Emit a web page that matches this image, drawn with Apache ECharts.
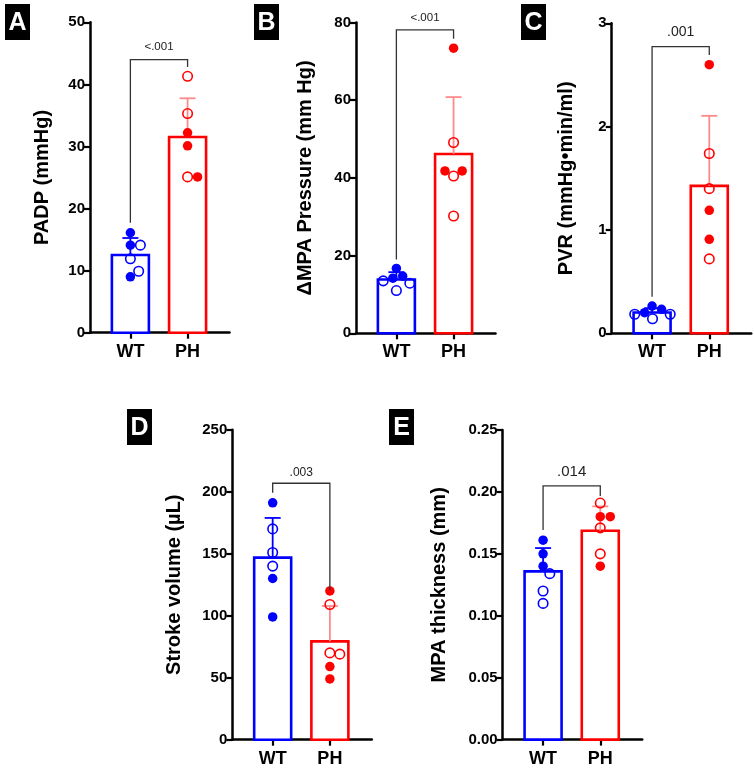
<!DOCTYPE html>
<html><head><meta charset="utf-8">
<script src="https://cdn.jsdelivr.net/npm/echarts@6/dist/echarts.min.js"></script>
<style>html,body{margin:0;padding:0;background:#fff}#c{width:754px;height:768px}</style>
</head><body><div id="c"></div>
<script>
// ---------- data ----------
const groups = ['WT', 'PH'];
// A: PADP (mmHg)
const padpWT = [16.1, 14.1, 14.1, 11.9, 9.0, 9.9];
const padpWTFilled = [1, 1, 0, 0, 1, 0];
const padpPH = [41.3, 35.3, 32.2, 30.1, 25.1, 25.1];
const padpPHFilled = [0, 0, 1, 1, 0, 1];
// B: ΔMPA pressure (mm Hg)
const mpaWT = [16.7, 14.7, 14.2, 13.5, 12.9, 11.0];
const mpaWTFilled = [1, 1, 1, 0, 0, 0];
const mpaPH = [73.4, 49.1, 40.5, 41.8, 41.8, 30.2];
const mpaPHFilled = [1, 0, 0, 1, 1, 0];
// C: PVR
const pvrWT = [0.264, 0.232, 0.20, 0.184, 0.184, 0.141];
const pvrWTFilled = [1, 1, 1, 0, 0, 0];
const pvrPH = [2.60, 1.74, 1.40, 1.19, 0.91, 0.72];
const pvrPHFilled = [1, 0, 0, 1, 1, 0];
// D: Stroke volume (µL)
const svWT = [191, 170, 151, 140, 130, 99];
const svWTFilled = [1, 0, 0, 0, 1, 1];
const svPH = [120, 109, 70, 69, 59, 49];
const svPHFilled = [1, 0, 0, 0, 1, 1];
// E: MPA thickness (mm)
const thWT = [0.161, 0.150, 0.140, 0.134, 0.120, 0.110];
const thWTFilled = [1, 1, 1, 0, 0, 0];
const thPH = [0.191, 0.180, 0.180, 0.171, 0.150, 0.140];
const thPHFilled = [0, 1, 1, 0, 0, 1];
// axis / annotation text
const pValues = ['<.001', '<.001', '.001', '.003', '.014'];
const yTitles = ['PADP (mmHg)', '\u0394MPA Pressure (mm Hg)', 'PVR (mmHg\u2022min/ml)', 'Stroke volume (\u00b5L)', 'MPA thickness (mm)'];
const yMax = [50, 80, 3, 250, 0.25];
const yStep = [10, 20, 1, 50, 0.05];
const yDecimals = [0, 0, 0, 0, 2];
const panelLetters = ['A', 'B', 'C', 'D', 'E'];

const series = [
  [padpWT, padpWTFilled, padpPH, padpPHFilled],
  [mpaWT, mpaWTFilled, mpaPH, mpaPHFilled],
  [pvrWT, pvrWTFilled, pvrPH, pvrPHFilled],
  [svWT, svWTFilled, svPH, svPHFilled],
  [thWT, thWTFilled, thPH, thPHFilled]
];

// ---------- layout / style ----------
const FONT = '"Liberation Sans", Arial, Helvetica, sans-serif';
const BLUE = '#0000ff', RED = '#ff0000';
const ERR = ['#0000ff', '#ff8a8a'];
const COLORS = [BLUE, RED];
const XMIN = 0.294, XMAX = 2.733;
const layout = [
  {left: 90,    top: 22.3, width: 139.5, height: 310.4, nameGap: 38, pFont: 11.5, br: [17.7, 44.0, 42.8],  pY: 46.0,  box: [5, 4, 25, 36]},
  {left: 356,   top: 22.5, width: 139.5, height: 310.8, nameGap: 41, pFont: 11.5, br: [19.0, 78.1, 75.8],  pY: 81.3,  box: [254, 4, 25, 36]},
  {left: 611.7, top: 23.3, width: 139.5, height: 310.0, nameGap: 35, pFont: 14,   br: [0.354, 2.774, 2.694], pY: 2.914, box: [521, 4, 25, 36]},
  {left: 232.3, top: 429.7, width: 139.5, height: 310.0, nameGap: 48, pFont: 12,  br: [199.2, 206.8, 120.7], pY: 215.6, box: [127, 409, 25, 36]},
  {left: 502.7, top: 430.0, width: 139.5, height: 309.6, nameGap: 53, pFont: 15,  br: [0.1693, 0.2049, 0.1968], pY: 0.2164, box: [389, 409, 25, 36]}
];

const mean = a => a.reduce((s, v) => s + v, 0) / a.length;
const sdev = a => { const m = mean(a); return Math.sqrt(a.reduce((s, v) => s + (v - m) * (v - m), 0) / (a.length - 1)); };

// beeswarm offsets (pixels) so that points do not overlap
function swarm(vals, ppu, d) {
  const placed = [], out = [];
  vals.forEach(v => {
    const y = v * ppu, iv = [];
    placed.forEach(p => {
      const dy = Math.abs(p.y - y);
      if (dy < d) { const w = Math.sqrt(d * d - dy * dy); iv.push([p.x - w, p.x + w]); }
    });
    const cands = [0];
    iv.forEach(([a, b]) => cands.push(a, b));
    const ok = c => iv.every(([a, b]) => c <= a + 1e-6 || c >= b - 1e-6);
    const valid = cands.filter(ok).sort((a, b) => (Math.abs(a) - Math.abs(b)) || (b - a));
    const x = valid[0];
    placed.push({x, y});
    out.push(x);
  });
  return out;
}

const grids = [], xAxes = [], yAxes = [], allSeries = [], graphics = [];
const axisFontStyle = {color: '#000', fontWeight: 'bold', fontFamily: FONT};

layout.forEach((L, i) => {
  const [wt, wtF, ph, phF] = series[i];
  grids.push({left: L.left, top: L.top, width: L.width, height: L.height, containLabel: false, outerBoundsMode: 'none'});
  xAxes.push({
    type: 'value', gridIndex: i, min: XMIN, max: XMAX,
    axisLine: {onZero: false, lineStyle: {color: '#000', width: 2.5}},
    splitLine: {show: false},
    axisTick: {customValues: [1, 2], length: 6, lineStyle: {color: '#000', width: 2.2}},
    axisLabel: Object.assign({customValues: [1, 2], fontSize: 18, margin: 10, formatter: v => groups[Math.round(v) - 1]}, axisFontStyle)
  });
  yAxes.push({
    type: 'value', gridIndex: i, min: 0, max: yMax[i], interval: yStep[i],
    name: yTitles[i], nameLocation: 'middle', nameRotate: 90, nameGap: L.nameGap,
    nameTextStyle: Object.assign({fontSize: 20}, axisFontStyle),
    axisLine: {show: true, onZero: false, lineStyle: {color: '#000', width: 2.5}},
    splitLine: {show: false},
    axisTick: {show: true, length: 6, lineStyle: {color: '#000', width: 2.2}},
    axisLabel: Object.assign({fontSize: 15, margin: 5, formatter: v => v.toFixed(yDecimals[i])}, axisFontStyle)
  });

  const groupsData = [[wt, wtF], [ph, phF]];
  // bars (mean)
  allSeries.push({
    type: 'custom', xAxisIndex: i, yAxisIndex: i, z: 2, silent: true,
    data: groupsData.map((g, k) => [k + 1, mean(g[0]), k]),
    encode: {x: 0, y: 1},
    renderItem: (params, api) => {
      const p0 = api.coord([api.value(0), 0]), p1 = api.coord([api.value(0), api.value(1)]);
      const w = 37;
      return {type: 'rect', shape: {x: p0[0] - w / 2, y: p1[1], width: w, height: p0[1] - p1[1]},
        style: {fill: '#fff', stroke: COLORS[api.value(2)], lineWidth: 2.6}};
    }
  });
  // error bars (mean + SD)
  allSeries.push({
    type: 'custom', xAxisIndex: i, yAxisIndex: i, z: 3, silent: true,
    data: groupsData.map((g, k) => [k + 1, mean(g[0]), mean(g[0]) + sdev(g[0]), k]),
    encode: {x: 0, y: [1, 2]},
    renderItem: (params, api) => {
      const a = api.coord([api.value(0), api.value(1)]), b = api.coord([api.value(0), api.value(2)]);
      const col = ERR[api.value(3)], cw = 8;
      return {type: 'group', children: [
        {type: 'line', shape: {x1: a[0], y1: a[1], x2: b[0], y2: b[1]}, style: {stroke: col, lineWidth: 1.8}},
        {type: 'line', shape: {x1: b[0] - cw, y1: b[1], x2: b[0] + cw, y2: b[1]}, style: {stroke: col, lineWidth: 1.8}}
      ]};
    }
  });
  // points
  const ppu = L.height / yMax[i];
  const pxPerX = L.width / (XMAX - XMIN);
  const pts = [];
  groupsData.forEach((g, k) => {
    const off = swarm(g[0], ppu, 10);
    g[0].forEach((v, j) => {
      pts.push({value: [k + 1 + off[j] / pxPerX, v],
        itemStyle: {opacity: 1, color: g[1][j] ? COLORS[k] : 'rgba(255,255,255,0)', borderColor: COLORS[k], borderWidth: g[1][j] ? 0 : 1.6}});
    });
  });
  allSeries.push({type: 'scatter', xAxisIndex: i, yAxisIndex: i, z: 4, silent: true, symbol: 'circle', symbolSize: 9.5,
    itemStyle: {opacity: 1}, data: pts});
  // significance bracket
  allSeries.push({
    type: 'custom', xAxisIndex: i, yAxisIndex: i, z: 5, silent: true,
    data: [[1.5, L.br[1]]], encode: {x: 0, y: 1},
    renderItem: (params, api) => {
      const p1 = api.coord([1, L.br[0]]), p2 = api.coord([1, L.br[1]]), p3 = api.coord([2, L.br[1]]), p4 = api.coord([2, L.br[2]]);
      const pt = api.coord([1.5, L.pY]);
      return {type: 'group', children: [
        {type: 'polyline', shape: {points: [p1, p2, p3, p4]}, style: {stroke: '#333', lineWidth: 1.3, fill: null}},
        {type: 'text', style: {text: pValues[i], x: pt[0], y: pt[1], align: 'center', verticalAlign: 'middle',
          fill: '#222', fontSize: L.pFont, fontFamily: FONT}}
      ]};
    }
  });
  // panel letter
  const [bx, by, bw, bh] = L.box;
  graphics.push({type: 'rect', shape: {x: bx, y: by, width: bw, height: bh}, style: {fill: '#000'}});
  graphics.push({type: 'text', style: {text: panelLetters[i], x: bx + bw / 2, y: by + bh / 2 + 1, align: 'center', verticalAlign: 'middle',
    fill: '#fff', fontSize: 25, fontWeight: 'bold', fontFamily: FONT}});
});

const chart = echarts.init(document.getElementById('c'));
chart.setOption({
  animation: false,
  backgroundColor: '#fff',
  grid: grids, xAxis: xAxes, yAxis: yAxes, series: allSeries, graphic: graphics
});
</script></body></html>
